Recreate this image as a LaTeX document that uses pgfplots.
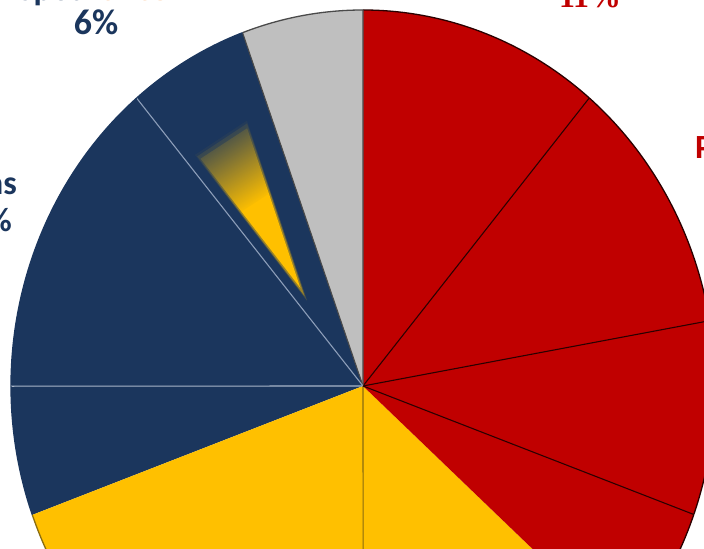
\documentclass[border=0pt]{standalone}
\usepackage{pgfplots}
\pgfplotsset{compat=1.18}
\usepackage{pgfplotstable}
\usetikzlibrary{fadings}
\usepackage{fontspec}
\setmainfont{Carlito}
\newfontfamily\seriffont{Liberation Serif}
\definecolor{cred}{HTML}{C00000}
\definecolor{cnavy}{HTML}{1B365D}
\definecolor{cyel}{HTML}{FFC000}
\definecolor{cgray}{HTML}{BFBFBF}
\definecolor{corange}{HTML}{F5A05A}
\definecolor{cline}{HTML}{8C9DB8}
\definecolor{cline2}{HTML}{A9B6CA}
\definecolor{cgold}{HTML}{8A6D10}
\definecolor{cdark}{HTML}{4A4A4A}
\definecolor{credge}{HTML}{2A0000}
\tikzfading[name=navyfade, top color=transparent!0, bottom color=transparent!100]

% slice shares (percent), starting at 50 degrees, counter-clockwise
\pgfplotstableread{
pct   fill   edge    rim
11.11 cred   credge  credge
5.56  cgray  cdark   cdark
5.56  cnavy  cdark   cnavy
13.89 cnavy  cline   cnavy
5.56  cnavy  cline2  cnavy
19.44 cyel   none    cgold
13.33 cyel   cgold   cgold
6.11  cred   none    credge
8.33  cred   credge  credge
11.11 cred   credge  credge
}\slices

\begin{document}
\begin{tikzpicture}
\begin{axis}[at={(0,0)}, anchor=south west, x=1bp, y=1bp,
  xmin=0, xmax=704, ymin=-549, ymax=0, hide axis, clip=true]
\pgfplotstablegetrowsof{\slices}
\pgfmathtruncatemacro{\nrows}{\pgfplotsretval-1}
% fills
\xdef\cur{50}
\pgfplotsforeachungrouped \i in {0,...,\nrows}{%
  \pgfplotstablegetelem{\i}{pct}\of\slices
  \let\slicepct=\pgfplotsretval
  \pgfplotstablegetelem{\i}{fill}\of\slices
  \let\slicecol=\pgfplotsretval
  \pgfmathsetmacro{\nxt}{\cur+3.6*\slicepct}
  \edef\temp{\noexpand\fill[\slicecol] (axis cs:363,-386) -- ++(\cur:352bp and 376bp) arc[start angle=\cur, end angle=\nxt, x radius=352bp, y radius=376bp] -- cycle;}
  \temp
  \xdef\cur{\nxt}
}
% boundaries and rims
\xdef\cur{50}
\pgfplotsforeachungrouped \i in {0,...,\nrows}{%
  \pgfplotstablegetelem{\i}{pct}\of\slices
  \let\slicepct=\pgfplotsretval
  \pgfplotstablegetelem{\i}{edge}\of\slices
  \let\edgecol=\pgfplotsretval
  \pgfplotstablegetelem{\i}{rim}\of\slices
  \let\rimcol=\pgfplotsretval
  \pgfmathsetmacro{\nxt}{\cur+3.6*\slicepct}
  \edef\temp{\noexpand\path[draw=\edgecol, line width=1.1bp] (axis cs:363,-386) -- ++(\cur:352bp and 376bp);
    \noexpand\path[draw=\rimcol, line width=1.3bp] (axis cs:363,-386) ++(\cur:352bp and 376bp) arc[start angle=\cur, end angle=\nxt, x radius=352bp, y radius=376bp];}
  \temp
  \xdef\cur{\nxt}
}
% decorative highlight in the navy slice (soft-edged yellow wedge)
\fill[cyel, opacity=0.2] (axis cs:194.9,-154.9) -- (axis cs:246.9,-120.6) -- (axis cs:307.0,-300.6) -- cycle;
\fill[cyel, opacity=0.45] (axis cs:197.2,-156.4) -- (axis cs:247.0,-123.5) -- (axis cs:304.5,-296.0) -- cycle;
\fill[cyel] (axis cs:200.6,-158.7) -- (axis cs:247.1,-128.3) -- (axis cs:300.3,-287.9) -- cycle;
\fill[cnavy, path fading=navyfade, fading angle=28]
  (axis cs:190.9,-152.2) -- (axis cs:246.6,-115.8) -- (axis cs:271.4,-192.2) -- (axis cs:239.1,-213.3) -- cycle;
% labels
\node[anchor=base, inner sep=0, font=\bfseries\fontsize{34}{38}\selectfont] at (axis cs:93,-1)
  {\textcolor{cnavy}{Spécif}\textcolor{corange}{ance}};
\node[anchor=base, inner sep=0, text=cnavy, font=\bfseries\fontsize{36}{40}\selectfont] at (axis cs:96,-35) {6\%};
\node[anchor=base, inner sep=0, text=cred, font=\seriffont\bfseries\fontsize{32}{36}\selectfont] at (axis cs:590,-8) {11\%};
\node[anchor=base west, inner sep=0, text=cred, font=\bfseries\fontsize{34}{40}\selectfont] at (axis cs:695,-159) {Pro};
\node[anchor=base east, inner sep=0, text=cnavy, font=\bfseries\fontsize{34}{38}\selectfont] at (axis cs:17,-195) {Formations};
\node[anchor=base east, inner sep=0, text=cnavy, font=\bfseries\fontsize{34}{38}\selectfont] at (axis cs:12,-232) {14\%};
\end{axis}
\end{tikzpicture}
\end{document}
